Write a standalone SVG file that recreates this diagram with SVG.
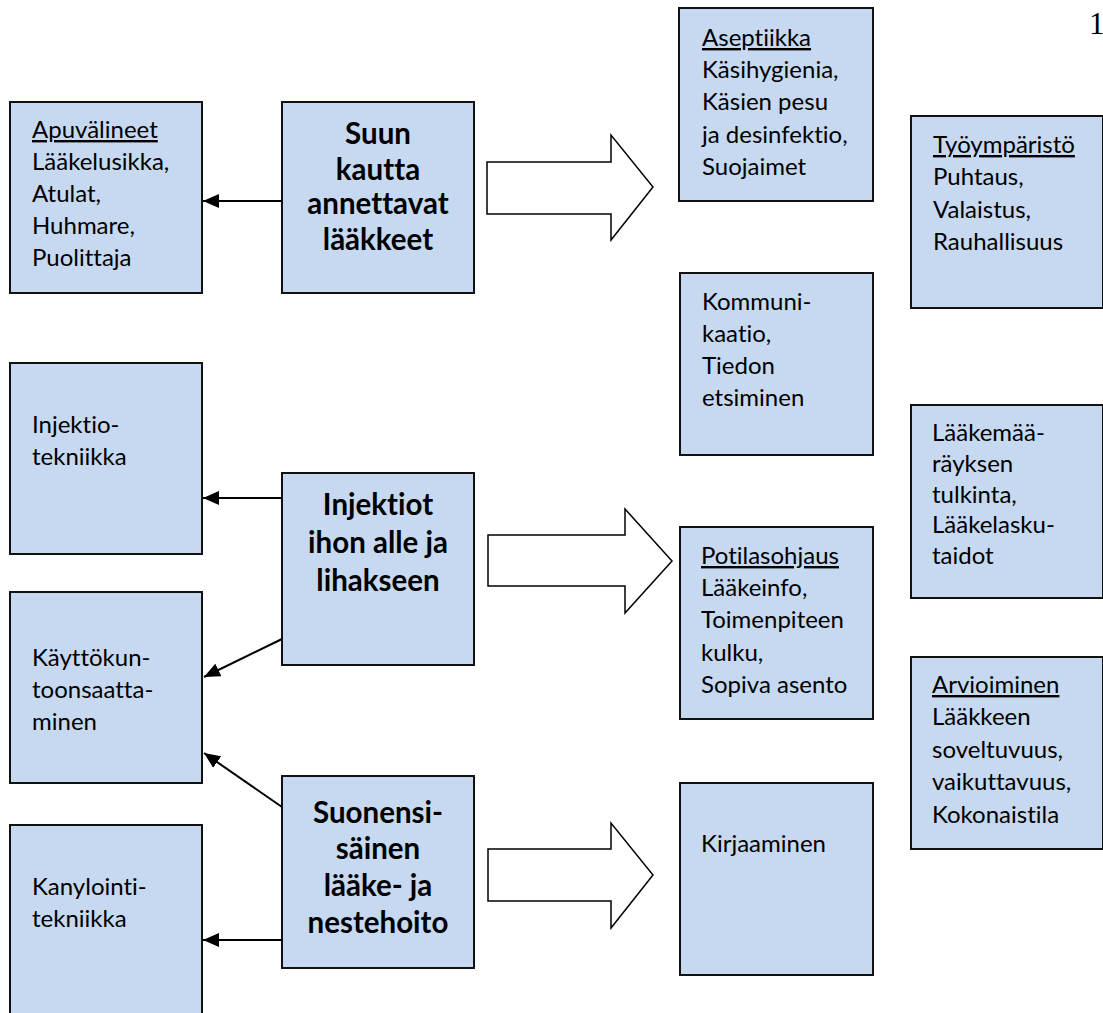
<svg xmlns="http://www.w3.org/2000/svg" width="1103" height="1013" viewBox="0 0 1103 1013">
<style>
.box{fill:#C6D9F1;stroke:#111;stroke-width:2}
.t{font-family:Lato,"Liberation Sans",sans-serif;font-size:24px;fill:#000;font-variant-ligatures:none}
.b{font-family:Lato,"Liberation Sans",sans-serif;font-size:29.5px;font-weight:bold;fill:#000;text-anchor:middle;font-variant-ligatures:none}
.u{text-decoration:underline}
.con{stroke:#000;stroke-width:2;fill:none}
.big{fill:#fff;stroke:#000;stroke-width:1.5}
</style>
<defs>
<marker id="ah" markerUnits="userSpaceOnUse" markerWidth="17" markerHeight="14" refX="16" refY="7" orient="auto">
<path d="M0,0 L16,7 L0,14 z" fill="#000"/>
</marker>
</defs>
<rect width="1103" height="1013" fill="#fff"/>
<text x="1089" y="34" font-family="'Liberation Serif',serif" font-size="31">1</text>

<g id="apuvalineet">
<rect class="box" x="10" y="102" width="192" height="191"/>
<text class="t"><tspan class="u" x="32" y="138">Apuvälineet</tspan><tspan x="32" y="170">Lääkelusikka,</tspan><tspan x="32" y="202">Atulat,</tspan><tspan x="32" y="234">Huhmare,</tspan><tspan x="32" y="266">Puolittaja</tspan></text>
</g>
<g id="suun">
<rect class="box" x="282" y="102" width="192" height="191"/>
<text class="b"><tspan x="378" y="144">Suun</tspan><tspan x="378" y="180">kautta</tspan><tspan x="378" y="214">annettavat</tspan><tspan x="378" y="250">lääkkeet</tspan></text>
</g>
<g id="aseptiikka">
<rect class="box" x="679" y="8" width="194" height="193"/>
<text class="t"><tspan class="u" x="702" y="46">Aseptiikka</tspan><tspan x="702" y="78">Käsihygienia,</tspan><tspan x="702" y="110">Käsien pesu</tspan><tspan x="702" y="143">ja desinfektio,</tspan><tspan x="702" y="175">Suojaimet</tspan></text>
</g>
<g id="tyoymparisto">
<rect class="box" x="911" y="116" width="192" height="192"/>
<text class="t"><tspan class="u" x="933" y="153">Työympäristö</tspan><tspan x="933" y="185">Puhtaus,</tspan><tspan x="933" y="218">Valaistus,</tspan><tspan x="933" y="250">Rauhallisuus</tspan></text>
</g>
<g id="kommunikaatio">
<rect class="box" x="680" y="273" width="193" height="182"/>
<text class="t"><tspan x="702" y="310">Kommuni-</tspan><tspan x="702" y="342">kaatio,</tspan><tspan x="702" y="374">Tiedon</tspan><tspan x="702" y="406">etsiminen</tspan></text>
</g>
<g id="injektiotekniikka">
<rect class="box" x="10" y="363" width="192" height="191"/>
<text class="t"><tspan x="32" y="433">Injektio-</tspan><tspan x="32" y="465">tekniikka</tspan></text>
</g>
<g id="injektiot">
<rect class="box" x="282" y="473" width="192" height="192"/>
<text class="b"><tspan x="378" y="515">Injektiot</tspan><tspan x="378" y="553">ihon alle ja</tspan><tspan x="378" y="591">lihakseen</tspan></text>
</g>
<g id="laakemaarays">
<rect class="box" x="911" y="405" width="192" height="193"/>
<text class="t"><tspan x="932" y="441">Lääkemää-</tspan><tspan x="932" y="472">räyksen</tspan><tspan x="932" y="503">tulkinta,</tspan><tspan x="932" y="533">Lääkelasku-</tspan><tspan x="932" y="564">taidot</tspan></text>
</g>
<g id="potilasohjaus">
<rect class="box" x="680" y="527" width="193" height="192"/>
<text class="t"><tspan class="u" x="701" y="564">Potilasohjaus</tspan><tspan x="701" y="596">Lääkeinfo,</tspan><tspan x="701" y="628">Toimenpiteen</tspan><tspan x="701" y="661">kulku,</tspan><tspan x="701" y="693">Sopiva asento</tspan></text>
</g>
<g id="kayttokuntoon">
<rect class="box" x="10" y="592" width="192" height="191"/>
<text class="t"><tspan x="32" y="666">Käyttökun-</tspan><tspan x="32" y="698">toonsaatta-</tspan><tspan x="32" y="730">minen</tspan></text>
</g>
<g id="arvioiminen">
<rect class="box" x="911" y="657" width="192" height="192"/>
<text class="t"><tspan class="u" x="932" y="693">Arvioiminen</tspan><tspan x="932" y="725">Lääkkeen</tspan><tspan x="932" y="758">soveltuvuus,</tspan><tspan x="932" y="790">vaikuttavuus,</tspan><tspan x="932" y="823">Kokonaistila</tspan></text>
</g>
<g id="suonensisainen">
<rect class="box" x="282" y="776" width="192" height="192"/>
<text class="b"><tspan x="378" y="823">Suonensi-</tspan><tspan x="378" y="859">säinen</tspan><tspan x="378" y="896">lääke- ja</tspan><tspan x="378" y="933">nestehoito</tspan></text>
</g>
<g id="kirjaaminen">
<rect class="box" x="680" y="783" width="193" height="192"/>
<text class="t"><tspan x="701" y="852">Kirjaaminen</tspan></text>
</g>
<g id="kanylointi">
<rect class="box" x="10" y="825" width="192" height="200"/>
<text class="t"><tspan x="32" y="895">Kanylointi-</tspan><tspan x="32" y="927">tekniikka</tspan></text>
</g>

<g id="connectors">
<line class="con" x1="282" y1="201" x2="203" y2="201" marker-end="url(#ah)"/>
<line class="con" x1="282" y1="498" x2="203" y2="498" marker-end="url(#ah)"/>
<line class="con" x1="282" y1="639" x2="204" y2="677" marker-end="url(#ah)"/>
<line class="con" x1="282" y1="807" x2="204" y2="753" marker-end="url(#ah)"/>
<line class="con" x1="282" y1="940" x2="203" y2="940" marker-end="url(#ah)"/>
<path class="big" d="M487,162 L611,162 L611,135 L653,187 L611,240 L611,214 L487,214 Z"/>
<path class="big" d="M488,535 L625,535 L625,509 L672,561 L625,613 L625,586 L488,586 Z"/>
<path class="big" d="M488,849 L611,849 L611,823 L653,875 L611,928 L611,901 L488,901 Z"/>
</g>
</svg>
